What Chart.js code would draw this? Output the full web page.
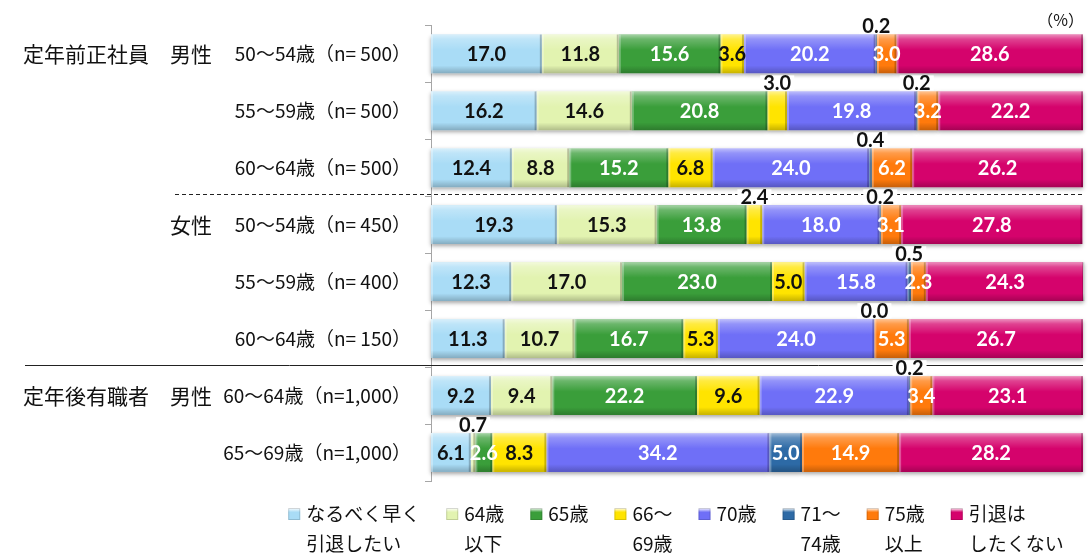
<!DOCTYPE html>
<html>
<head>
<meta charset="utf-8">
<script src="https://cdn.jsdelivr.net/npm/chart.js@4.4.1/dist/chart.umd.min.js"></script>
<style>
  html, body { margin: 0; padding: 0; background: #fff; }
  #wrap { width: 1088px; height: 554px; }
</style>
</head>
<body>
<div id="wrap"><canvas id="mycanvas" width="1088" height="554"></canvas></div>
<script>
var rows = ['50～54歳（n= 500）', '55～59歳（n= 500）', '60～64歳（n= 500）',
  '50～54歳（n= 450）', '55～59歳（n= 400）', '60～64歳（n= 150）',
  '60～64歳（n=1,000）', '65～69歳（n=1,000）'];
var groups = ['定年前正社員　男性', '', '', '女性', '', '', '定年後有職者　男性', ''];

var seriesNames = [['なるべく早く', '引退したい'], ['64歳', '以下'], ['65歳'], ['66～', '69歳'],
  ['70歳'], ['71～', '74歳'], ['75歳', '以上'], ['引退は', 'したくない']];

var retireAsap  = [17.0, 16.2, 12.4, 19.3, 12.3, 11.3, 9.2, 6.1];
var upTo64      = [11.8, 14.6, 8.8, 15.3, 17.0, 10.7, 9.4, 0.7];
var age65       = [15.6, 20.8, 15.2, 13.8, 23.0, 16.7, 22.2, 2.6];
var age66to69   = [3.6, 3.0, 6.8, 2.4, 5.0, 5.3, 9.6, 8.3];
var age70       = [20.2, 19.8, 24.0, 18.0, 15.8, 24.0, 22.9, 34.2];
var age71to74   = [0.2, 0.2, 0.4, 0.2, 0.5, 0.0, 0.2, 5.0];
var over75      = [3.0, 3.2, 6.2, 3.1, 2.3, 5.3, 3.4, 14.9];
var neverRetire = [28.6, 22.2, 26.2, 27.8, 24.3, 26.7, 23.1, 28.2];

var seriesData = [retireAsap, upTo64, age65, age66to69, age70, age71to74, over75, neverRetire];
var fills = ['#a9dcf6', '#e2f3b0', '#3a9e3a', '#ffe400', '#6f6ff7', '#2d6aa6', '#ff7a0c', '#d5036c'];
var labelInk = ['#111', '#111', '#fff', '#111', '#fff', '#fff', '#fff', '#fff'];

var JP = '"Noto Sans CJK JP", "Noto Sans", sans-serif';
var NUM = 'Lato, "Liberation Sans", sans-serif';

// thin values get their number above the bar instead of inside
function labelAbove(ds, v) {
	return v < 1 || (ds === 3 && v <= 3.0);
}

function barBox(el) {
	var p = el.getProps(['x', 'y', 'base', 'height'], true);
	return { l: Math.min(p.x, p.base), r: Math.max(p.x, p.base), t: p.y - p.height / 2, b: p.y + p.height / 2, cy: p.y };
}

var separators = {
	id: 'separators',
	beforeDatasetsDraw: function(chart) {
		var ctx = chart.ctx, y = chart.scales.y, area = chart.chartArea;
		var y1 = Math.round((y.getPixelForValue(2) + y.getPixelForValue(3)) / 2) - 1.5;
		var y2 = Math.round((y.getPixelForValue(5) + y.getPixelForValue(6)) / 2) - 1.5;
		ctx.save();
		ctx.strokeStyle = '#222';
		ctx.lineWidth = 1;
		ctx.setLineDash([4, 3]);
		ctx.beginPath(); ctx.moveTo(175, y1); ctx.lineTo(area.right, y1); ctx.stroke();
		ctx.setLineDash([]);
		ctx.beginPath(); ctx.moveTo(25, y2); ctx.lineTo(area.right, y2); ctx.stroke();

		// soft drop shadow under every segment
		ctx.shadowColor = 'rgba(0,0,0,0.35)';
		ctx.shadowBlur = 4;
		ctx.shadowOffsetY = 2;
		ctx.fillStyle = '#fff';
		chart.data.datasets.forEach(function(ds, i) {
			chart.getDatasetMeta(i).data.forEach(function(el) {
				var b = barBox(el);
				if (b.r - b.l > 0) ctx.fillRect(b.l, b.t, b.r - b.l, b.b - b.t);
			});
		});
		ctx.restore();
	}
};

var bevel = {
	id: 'bevel',
	afterDatasetsDraw: function(chart) {
		var ctx = chart.ctx;
		ctx.save();
		chart.data.datasets.forEach(function(ds, i) {
			chart.getDatasetMeta(i).data.forEach(function(el) {
				var b = barBox(el), w = b.r - b.l, h = b.b - b.t;
				if (w <= 0) return;
				var g = ctx.createLinearGradient(0, b.t, 0, b.b);
				g.addColorStop(0, 'rgba(255,255,255,0.55)');
				g.addColorStop(0.12, 'rgba(255,255,255,0.25)');
				g.addColorStop(0.4, 'rgba(255,255,255,0)');
				g.addColorStop(0.8, 'rgba(0,0,0,0)');
				g.addColorStop(1, 'rgba(0,0,0,0.22)');
				ctx.fillStyle = g;
				ctx.fillRect(b.l, b.t, w, h);
				ctx.fillStyle = 'rgba(255,255,255,0.3)';
				ctx.fillRect(b.l, b.t, Math.min(2, w), h);
				ctx.fillStyle = 'rgba(0,0,0,0.22)';
				ctx.fillRect(Math.max(b.l, b.r - 2), b.t, Math.min(2, w), h);
			});
		});
		ctx.restore();
	}
};

var valueLabels = {
	id: 'valueLabels',
	afterDatasetsDraw: function(chart) {
		var ctx = chart.ctx;
		ctx.save();
		ctx.font = 'bold 20px ' + NUM;
		ctx.textAlign = 'center';
		ctx.textBaseline = 'middle';
		chart.data.datasets.forEach(function(ds, i) {
			chart.getDatasetMeta(i).data.forEach(function(el, j) {
				var v = ds.data[j], b = barBox(el);
				var txt = v.toFixed(1), cx = (b.l + b.r) / 2;
				if (labelAbove(i, v)) {
					var tw = ctx.measureText(txt).width, ty = b.t - 8;
					ctx.fillStyle = '#fff';
					ctx.fillRect(cx - tw / 2 - 3, ty - 8, tw + 6, 15);
					ctx.fillStyle = '#111';
					ctx.fillText(txt, cx, ty);
				} else {
					ctx.fillStyle = labelInk[i];
					ctx.fillText(txt, cx, b.cy + 1);
				}
			});
		});
		ctx.restore();
	}
};

var legendBelow = {
	id: 'legendBelow',
	afterDraw: function(chart) {
		var ctx = chart.ctx;
		ctx.save();
		ctx.font = '19px ' + JP;
		ctx.textBaseline = 'middle';
		var box = 12, textOff = 18, gap = 26;
		var widths = seriesNames.map(function(lines) {
			return Math.max.apply(null, lines.map(function(t) { return ctx.measureText(t).width; }));
		});
		var total = 0;
		widths.forEach(function(w) { total += textOff + w; });
		total += gap * (widths.length - 1);
		var x = 676 - total / 2;
		seriesNames.forEach(function(lines, i) {
			var g = ctx.createLinearGradient(0, 508, 0, 520);
			g.addColorStop(0, '#fff');
			g.addColorStop(0.35, fills[i]);
			g.addColorStop(1, fills[i]);
			ctx.fillStyle = g;
			ctx.fillRect(x, 508, box, box);
			ctx.strokeStyle = 'rgba(0,0,0,0.15)';
			ctx.strokeRect(x + 0.5, 508.5, box - 1, box - 1);
			ctx.fillStyle = '#111';
			lines.forEach(function(t, k) {
				ctx.fillText(t, x + textOff, 514 + k * 30);
			});
			x += textOff + widths[i] + gap;
		});

		ctx.font = '16px ' + JP;
		ctx.textAlign = 'right';
		ctx.fillText('（%）', 1084, 20);
		ctx.restore();
	}
};

var ctx = document.getElementById('mycanvas');
var barGraph = new Chart(ctx, {
	type: 'bar',
	data: {
		labels: rows,
		datasets: seriesData.map(function(arr, i) {
			return {
				label: seriesNames[i].join(''),
				data: arr,
				backgroundColor: fills[i],
				borderWidth: 0,
				yAxisID: 'y',
				barPercentage: 0.68,
				categoryPercentage: 1
			};
		})
	},
	options: {
		indexAxis: 'y',
		responsive: false,
		animation: false,
		layout: { padding: { left: 0, top: 25, right: 5, bottom: 73 } },
		plugins: { legend: { display: false }, tooltip: { enabled: false } },
		scales: {
			x: { stacked: true, min: 0, max: 100, display: false },
			y: {
				stacked: true,
				weight: 0,
				grid: { offset: true, drawOnChartArea: false, drawTicks: true, tickLength: 6, color: '#a6a6a6' },
				border: { display: true, color: '#a6a6a6' },
				ticks: { padding: 14, color: '#111', font: { family: JP, size: 19 } },
				afterFit: function(s) { s.width = 219; }
			},
			y2: {
				type: 'category',
				labels: groups,
				position: 'left',
				offset: true,
				weight: 1,
				grid: { display: false, drawTicks: false },
				border: { display: false },
				ticks: { padding: 0, color: '#111', font: { family: JP, size: 21 } },
				afterFit: function(s) { s.width = 212; }
			}
		}
	},
	plugins: [separators, bevel, valueLabels, legendBelow]
});
</script>
</body>
</html>
